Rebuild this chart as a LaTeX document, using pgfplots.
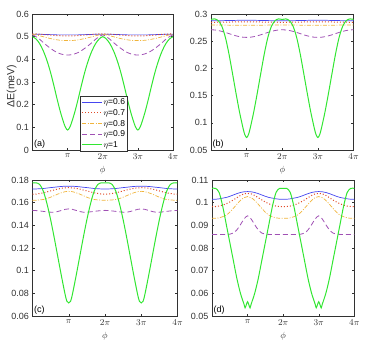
\documentclass[border=0pt]{standalone}
\usepackage{pgfplots}
\pgfplotsset{compat=1.18}
\usepackage{pgfplotstable}
\usepackage{fontspec}
\setmainfont{Liberation Sans}

\definecolor{cb}{RGB}{70,70,240}
\definecolor{cr}{RGB}{225,75,40}
\definecolor{co}{RGB}{240,180,60}
\definecolor{cp}{RGB}{160,80,180}
\definecolor{cg}{RGB}{50,230,50}
\definecolor{axc}{RGB}{50,50,50}

% ---------- panel (a) ----------
\pgfplotstableread{
x b r o p
0.0 0.511 0.512 0.510 0.508
0.1 0.511 0.512 0.508 0.500
0.2 0.511 0.511 0.504 0.489
0.3 0.510 0.510 0.500 0.475
0.4 0.510 0.509 0.496 0.462
0.5 0.509 0.507 0.492 0.450
0.6 0.509 0.506 0.489 0.439
0.7 0.508 0.505 0.486 0.430
0.8 0.508 0.504 0.484 0.424
0.9 0.508 0.504 0.483 0.420
1.0 0.508 0.504 0.483 0.419
1.1 0.508 0.504 0.483 0.420
1.2 0.508 0.504 0.484 0.424
1.3 0.508 0.505 0.486 0.430
1.4 0.509 0.506 0.489 0.439
1.5 0.509 0.507 0.492 0.450
1.6 0.510 0.509 0.496 0.462
1.7 0.510 0.510 0.500 0.475
1.8 0.511 0.511 0.504 0.489
1.9 0.511 0.512 0.508 0.500
2.0 0.511 0.512 0.510 0.508
2.1 0.511 0.512 0.508 0.500
2.2 0.511 0.511 0.504 0.489
2.3 0.510 0.510 0.500 0.475
2.4 0.510 0.509 0.496 0.462
2.5 0.509 0.507 0.492 0.450
2.6 0.509 0.506 0.489 0.439
2.7 0.508 0.505 0.486 0.430
2.8 0.508 0.504 0.484 0.424
2.9 0.508 0.504 0.483 0.420
3.0 0.508 0.504 0.483 0.419
3.1 0.508 0.504 0.483 0.420
3.2 0.508 0.504 0.484 0.424
3.3 0.508 0.505 0.486 0.430
3.4 0.509 0.506 0.489 0.439
3.5 0.509 0.507 0.492 0.450
3.6 0.510 0.509 0.496 0.462
3.7 0.510 0.510 0.500 0.475
3.8 0.511 0.511 0.504 0.489
3.9 0.511 0.512 0.508 0.500
4.0 0.511 0.512 0.510 0.508
}\tabA
\pgfplotstableread{
x g
0.0 0.500
0.1 0.490
0.2 0.470
0.3 0.440
0.4 0.400
0.5 0.350
0.6 0.290
0.7 0.225
0.8 0.165
0.9 0.115
0.95 0.097
1.0 0.088
1.05 0.097
1.1 0.115
1.2 0.165
1.3 0.225
1.4 0.290
1.5 0.350
1.6 0.400
1.7 0.440
1.8 0.470
1.9 0.490
2.0 0.500
2.1 0.490
2.2 0.470
2.3 0.440
2.4 0.400
2.5 0.350
2.6 0.290
2.7 0.225
2.8 0.165
2.9 0.115
2.95 0.097
3.0 0.088
3.05 0.097
3.1 0.115
3.2 0.165
3.3 0.225
3.4 0.290
3.5 0.350
3.6 0.400
3.7 0.440
3.8 0.470
3.9 0.490
4.0 0.500
}\tabAg

% ---------- panel (b) ----------
\pgfplotstableread{
x b r o p
0.0 0.2875 0.2848 0.2798 0.2710
0.1 0.2875 0.2848 0.2798 0.2707
0.2 0.2876 0.2849 0.2797 0.2697
0.3 0.2877 0.2850 0.2797 0.2681
0.4 0.2879 0.2851 0.2796 0.2662
0.5 0.2880 0.2852 0.2795 0.2640
0.6 0.2881 0.2853 0.2794 0.2618
0.7 0.2883 0.2854 0.2793 0.2599
0.8 0.2884 0.2855 0.2793 0.2583
0.9 0.2885 0.2856 0.2792 0.2573
1.0 0.2885 0.2856 0.2792 0.2570
1.1 0.2885 0.2856 0.2792 0.2573
1.2 0.2884 0.2855 0.2793 0.2583
1.3 0.2883 0.2854 0.2793 0.2599
1.4 0.2881 0.2853 0.2794 0.2618
1.5 0.2880 0.2852 0.2795 0.2640
1.6 0.2879 0.2851 0.2796 0.2662
1.7 0.2877 0.2850 0.2797 0.2681
1.8 0.2876 0.2849 0.2797 0.2697
1.9 0.2875 0.2848 0.2798 0.2707
2.0 0.2875 0.2848 0.2798 0.2710
2.1 0.2875 0.2848 0.2798 0.2707
2.2 0.2876 0.2849 0.2797 0.2697
2.3 0.2877 0.2850 0.2797 0.2681
2.4 0.2879 0.2851 0.2796 0.2662
2.5 0.2880 0.2852 0.2795 0.2640
2.6 0.2881 0.2853 0.2794 0.2618
2.7 0.2883 0.2854 0.2793 0.2599
2.8 0.2884 0.2855 0.2793 0.2583
2.9 0.2885 0.2856 0.2792 0.2573
3.0 0.2885 0.2856 0.2792 0.2570
3.1 0.2885 0.2856 0.2792 0.2573
3.2 0.2884 0.2855 0.2793 0.2583
3.3 0.2883 0.2854 0.2793 0.2599
3.4 0.2881 0.2853 0.2794 0.2618
3.5 0.2880 0.2852 0.2795 0.2640
3.6 0.2879 0.2851 0.2796 0.2662
3.7 0.2877 0.2850 0.2797 0.2681
3.8 0.2876 0.2849 0.2797 0.2697
3.9 0.2875 0.2848 0.2798 0.2707
4.0 0.2875 0.2848 0.2798 0.2710
}\tabB
\pgfplotstableread{
x g
0.0 0.290
0.1 0.291
0.2 0.288
0.3 0.278
0.4 0.258
0.5 0.228
0.6 0.192
0.7 0.155
0.8 0.120
0.9 0.090
0.95 0.078
1.0 0.073
1.05 0.078
1.1 0.090
1.2 0.120
1.3 0.155
1.4 0.192
1.5 0.228
1.6 0.258
1.7 0.278
1.8 0.288
1.9 0.291
2.0 0.290
2.1 0.291
2.2 0.288
2.3 0.278
2.4 0.258
2.5 0.228
2.6 0.192
2.7 0.155
2.8 0.120
2.9 0.090
2.95 0.078
3.0 0.073
3.05 0.078
3.1 0.090
3.2 0.120
3.3 0.155
3.4 0.192
3.5 0.228
3.6 0.258
3.7 0.278
3.8 0.288
3.9 0.291
4.0 0.290
}\tabBg

% ---------- panel (c) ----------
\pgfplotstableread{
x b r o p
0.0 0.1720 0.1675 0.1622 0.1532
0.1 0.1721 0.1676 0.1622 0.1530
0.2 0.1723 0.1681 0.1624 0.1527
0.3 0.1725 0.1687 0.1628 0.1523
0.4 0.1729 0.1695 0.1636 0.1519
0.5 0.1733 0.1704 0.1648 0.1516
0.6 0.1736 0.1712 0.1662 0.1516
0.7 0.1740 0.1720 0.1676 0.1522
0.8 0.1743 0.1727 0.1688 0.1532
0.9 0.1745 0.1731 0.1697 0.1541
1.0 0.1745 0.1732 0.1700 0.1545
1.1 0.1745 0.1731 0.1697 0.1541
1.2 0.1743 0.1727 0.1688 0.1532
1.3 0.1740 0.1720 0.1676 0.1522
1.4 0.1736 0.1712 0.1662 0.1516
1.5 0.1733 0.1704 0.1648 0.1516
1.6 0.1729 0.1695 0.1636 0.1519
1.7 0.1725 0.1687 0.1628 0.1523
1.8 0.1723 0.1681 0.1624 0.1527
1.9 0.1721 0.1676 0.1622 0.1530
2.0 0.1720 0.1675 0.1622 0.1532
2.1 0.1721 0.1676 0.1622 0.1530
2.2 0.1723 0.1681 0.1624 0.1527
2.3 0.1725 0.1687 0.1628 0.1523
2.4 0.1729 0.1695 0.1636 0.1519
2.5 0.1733 0.1704 0.1648 0.1516
2.6 0.1736 0.1712 0.1662 0.1516
2.7 0.1740 0.1720 0.1676 0.1522
2.8 0.1743 0.1727 0.1688 0.1532
2.9 0.1745 0.1731 0.1697 0.1541
3.0 0.1745 0.1732 0.1700 0.1545
3.1 0.1745 0.1731 0.1697 0.1541
3.2 0.1743 0.1727 0.1688 0.1532
3.3 0.1740 0.1720 0.1676 0.1522
3.4 0.1736 0.1712 0.1662 0.1516
3.5 0.1733 0.1704 0.1648 0.1516
3.6 0.1729 0.1695 0.1636 0.1519
3.7 0.1725 0.1687 0.1628 0.1523
3.8 0.1723 0.1681 0.1624 0.1527
3.9 0.1721 0.1676 0.1622 0.1530
4.0 0.1720 0.1675 0.1622 0.1532
}\tabC
\pgfplotstableread{
x g
0.0 0.1775
0.1 0.1775
0.2 0.1760
0.3 0.1700
0.4 0.1590
0.5 0.1450
0.6 0.1290
0.7 0.1120
0.8 0.0950
0.9 0.0790
0.95 0.0730
1.0 0.0715
1.05 0.0730
1.1 0.0790
1.2 0.0950
1.3 0.1120
1.4 0.1290
1.5 0.1450
1.6 0.1590
1.7 0.1700
1.8 0.1760
1.9 0.1775
2.0 0.1775
2.1 0.1775
2.2 0.1760
2.3 0.1700
2.4 0.1590
2.5 0.1450
2.6 0.1290
2.7 0.1120
2.8 0.0950
2.9 0.0790
2.95 0.0730
3.0 0.0715
3.05 0.0730
3.1 0.0790
3.2 0.0950
3.3 0.1120
3.4 0.1290
3.5 0.1450
3.6 0.1590
3.7 0.1700
3.8 0.1760
3.9 0.1775
4.0 0.1775
}\tabCg

% ---------- panel (d) ----------
\pgfplotstableread{
x b r o p
0.0 0.1015 0.0982 0.0931 0.0860
0.1 0.1015 0.0983 0.0931 0.0860
0.2 0.1017 0.0985 0.0933 0.0860
0.3 0.1020 0.0989 0.0938 0.0860
0.4 0.1023 0.0995 0.0945 0.0860
0.5 0.1028 0.1003 0.0958 0.0861
0.6 0.1034 0.1012 0.0975 0.0866
0.7 0.1040 0.1022 0.0993 0.0880
0.8 0.1045 0.1032 0.1010 0.0903
0.9 0.1048 0.1039 0.1022 0.0928
1.0 0.1049 0.1041 0.1027 0.0942
1.1 0.1048 0.1039 0.1022 0.0928
1.2 0.1045 0.1032 0.1010 0.0903
1.3 0.1040 0.1022 0.0993 0.0880
1.4 0.1034 0.1012 0.0975 0.0866
1.5 0.1028 0.1003 0.0958 0.0861
1.6 0.1023 0.0995 0.0945 0.0860
1.7 0.1020 0.0989 0.0938 0.0860
1.8 0.1017 0.0985 0.0933 0.0860
1.9 0.1015 0.0983 0.0931 0.0860
2.0 0.1015 0.0982 0.0931 0.0860
2.1 0.1015 0.0983 0.0931 0.0860
2.2 0.1017 0.0985 0.0933 0.0860
2.3 0.1020 0.0989 0.0938 0.0860
2.4 0.1023 0.0995 0.0945 0.0860
2.5 0.1028 0.1003 0.0958 0.0861
2.6 0.1034 0.1012 0.0975 0.0866
2.7 0.1040 0.1022 0.0993 0.0880
2.8 0.1045 0.1032 0.1010 0.0903
2.9 0.1048 0.1039 0.1022 0.0928
3.0 0.1049 0.1041 0.1027 0.0942
3.1 0.1048 0.1039 0.1022 0.0928
3.2 0.1045 0.1032 0.1010 0.0903
3.3 0.1040 0.1022 0.0993 0.0880
3.4 0.1034 0.1012 0.0975 0.0866
3.5 0.1028 0.1003 0.0958 0.0861
3.6 0.1023 0.0995 0.0945 0.0860
3.7 0.1020 0.0989 0.0938 0.0860
3.8 0.1017 0.0985 0.0933 0.0860
3.9 0.1015 0.0983 0.0931 0.0860
4.0 0.1015 0.0982 0.0931 0.0860
}\tabD
\pgfplotstableread{
x g
0.0 0.1063
0.1 0.1063
0.2 0.1045
0.3 0.0985
0.4 0.0905
0.5 0.0825
0.6 0.0745
0.7 0.0665
0.8 0.0600
0.9 0.0552
0.93 0.0536
0.965 0.0550
1.0 0.0563
1.035 0.0550
1.07 0.0536
1.1 0.0552
1.2 0.0600
1.3 0.0665
1.4 0.0745
1.5 0.0825
1.6 0.0905
1.7 0.0985
1.8 0.1045
1.9 0.1063
2.0 0.1063
2.1 0.1063
2.2 0.1045
2.3 0.0985
2.4 0.0905
2.5 0.0825
2.6 0.0745
2.7 0.0665
2.8 0.0600
2.9 0.0552
2.93 0.0536
2.965 0.0550
3.0 0.0563
3.035 0.0550
3.07 0.0536
3.1 0.0552
3.2 0.0600
3.3 0.0665
3.4 0.0745
3.5 0.0825
3.6 0.0905
3.7 0.0985
3.8 0.1045
3.9 0.1063
4.0 0.1063
}\tabDg

\pgfplotsset{
  panel/.style={
    scale only axis, height=136pt,
    xmin=0, xmax=4,
    xtick={1,2,3,4},
    xticklabels={$\pi$,$2\pi$,$3\pi$,$4\pi$},
    tick align=inside,
    major tick length=2.2pt,
    axis line style={axc, line width=0.5pt},
    every tick/.style={axc, line width=0.4pt},
    tick label style={font=\fontsize{9}{10}\selectfont, text=axc},
    /pgf/number format/assume math mode=true,
    scaled y ticks=false,
    xlabel={$\phi$},
    every axis x label/.style={at={(axis description cs:0.5,0)}, anchor=center, yshift=-20pt, font=\fontsize{9}{10}\selectfont, text=axc},
  },
  cB/.style={cb, line width=0.7pt, smooth},
  cR/.style={cr, line width=1.0pt, dotted, smooth},
  cO/.style={co, line width=0.7pt, dash pattern=on 4pt off 1.5pt on 1pt off 1.5pt, smooth},
  cP/.style={cp, line width=0.8pt, dash pattern=on 5pt off 3pt, smooth},
  cG/.style={cg, line width=1.0pt, smooth},
}
\tikzset{plab/.style={anchor=south west, inner sep=1.5pt, font=\fontsize{9}{10}\selectfont}}

\begin{document}
\begin{tikzpicture}
\useasboundingbox (0pt,0pt) rectangle (388pt,340pt);

% (a)
\begin{axis}[panel, at={(32.5pt,190pt)}, anchor=south west, width=140.5pt,
  ymin=0, ymax=0.6, ytick={0,0.1,0.2,0.3,0.4,0.5,0.6},
  yticklabels={0,0.1,0.2,0.3,0.4,0.5,0.6},
  ylabel={ΔE(meV)},
  every axis y label/.style={at={(axis description cs:-0.148,0.47)}, rotate=90, anchor=center, font=\fontsize{10.5}{11}\selectfont, text=axc},
  legend style={at={(axis description cs:0.338,0)}, anchor=south west, yshift=-1pt,
    font=\fontsize{8.5}{9}\selectfont, draw=axc, fill=white,
    inner xsep=1.5pt, inner ysep=1pt, row sep=0.6pt,
    nodes={inner sep=1pt, text height=6.5pt, text depth=1.5pt}},
  legend image code/.code={\draw[#1] (0pt,0pt) -- (20pt,0pt);},
  legend cell align=left,
]
\addplot[cB] table[x=x,y=b] {\tabA};
\addlegendentry{$\eta$=0.6}
\addplot[cR] table[x=x,y=r] {\tabA};
\addlegendentry{$\eta$=0.7}
\addplot[cO] table[x=x,y=o] {\tabA};
\addlegendentry{$\eta$=0.8}
\addplot[cP] table[x=x,y=p] {\tabA};
\addlegendentry{$\eta$=0.9}
\addplot[cG] table[x=x,y=g] {\tabAg};
\addlegendentry{$\eta$=1}
\node[plab] at (rel axis cs:0,0) {(a)};
\end{axis}

% (b)
\begin{axis}[panel, at={(211pt,190pt)}, anchor=south west, width=142.5pt,
  ymin=0.05, ymax=0.3, ytick={0.05,0.1,0.15,0.2,0.25,0.3},
  yticklabels={0.05,0.1,0.15,0.2,0.25,0.3},
]
\addplot[cB] table[x=x,y=b] {\tabB};
\addplot[cR] table[x=x,y=r] {\tabB};
\addplot[cO] table[x=x,y=o] {\tabB};
\addplot[cP] table[x=x,y=p] {\tabB};
\addplot[cG] table[x=x,y=g] {\tabBg};
\node[plab] at (rel axis cs:0,0) {(b)};
\end{axis}

% (c)
\begin{axis}[panel, at={(32.5pt,24pt)}, anchor=south west, width=145pt,
  ymin=0.06, ymax=0.18, ytick={0.06,0.08,0.1,0.12,0.14,0.16,0.18},
  yticklabels={0.06,0.08,0.1,0.12,0.14,0.16,0.18},
]
\addplot[cB] table[x=x,y=b] {\tabC};
\addplot[cR] table[x=x,y=r] {\tabC};
\addplot[cO] table[x=x,y=o] {\tabC};
\addplot[cP] table[x=x,y=p] {\tabC};
\addplot[cG] table[x=x,y=g] {\tabCg};
\node[plab] at (rel axis cs:0,0) {(c)};
\end{axis}

% (d)
\begin{axis}[panel, at={(212pt,24pt)}, anchor=south west, width=142.3pt,
  ymin=0.05, ymax=0.11, ytick={0.05,0.06,0.07,0.08,0.09,0.1,0.11},
  yticklabels={0.05,0.06,0.07,0.08,0.09,0.1,0.11},
]
\addplot[cB] table[x=x,y=b] {\tabD};
\addplot[cR] table[x=x,y=r] {\tabD};
\addplot[cO] table[x=x,y=o] {\tabD};
\addplot[cP] table[x=x,y=p] {\tabD};
\addplot[cG] table[x=x,y=g] {\tabDg};
\node[plab] at (rel axis cs:0,0) {(d)};
\end{axis}
\end{tikzpicture}
\end{document}
